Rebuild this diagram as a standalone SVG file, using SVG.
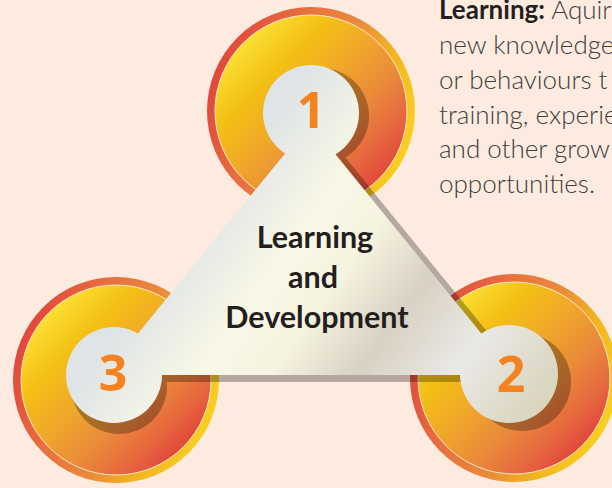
<svg xmlns="http://www.w3.org/2000/svg" width="612" height="488" viewBox="0 0 612 488">
  <defs>
    <linearGradient id="band" x1="0" y1="0.3" x2="1" y2="0.7">
      <stop offset="0" stop-color="#e0423b"/>
      <stop offset="0.3" stop-color="#e86e3f"/>
      <stop offset="0.55" stop-color="#ea8a3a"/>
      <stop offset="0.75" stop-color="#f2b520"/>
      <stop offset="1" stop-color="#f9d421"/>
    </linearGradient>
    <linearGradient id="inner" x1="0.1" y1="0.1" x2="0.9" y2="0.9">
      <stop offset="0" stop-color="#fde93c"/>
      <stop offset="0.25" stop-color="#f4c014"/>
      <stop offset="0.45" stop-color="#f0a82a"/>
      <stop offset="0.65" stop-color="#ea8a3a"/>
      <stop offset="0.82" stop-color="#e6683e"/>
      <stop offset="1" stop-color="#de3a3a"/>
    </linearGradient>
    <linearGradient id="metal" gradientUnits="userSpaceOnUse" x1="60" y1="60" x2="580" y2="440">
      <stop offset="0" stop-color="#dfe4e7"/>
      <stop offset="0.32" stop-color="#dfe4e6"/>
      <stop offset="0.46" stop-color="#f9f8e6"/>
      <stop offset="0.55" stop-color="#f6f3e0"/>
      <stop offset="0.66" stop-color="#d9d1c2"/>
      <stop offset="0.78" stop-color="#eae9e7"/>
      <stop offset="0.9" stop-color="#dcd7c2"/>
      <stop offset="1" stop-color="#d6d0b4"/>
    </linearGradient>
    <style>
      .band { fill: url(#band); }
      .inner { fill: url(#inner); stroke: #fbe6cc; stroke-width: 1; }
      .metal { fill: url(#metal); }
      .num { font-family: "Open Sans", "Liberation Sans", sans-serif; font-weight: 700; font-size: 50px; fill: #f58220; text-anchor: middle; }
      .title { font-family: Lato, "Liberation Sans", sans-serif; font-weight: 700; font-size: 30.5px; fill: #231f20; text-anchor: middle; }
      .body { font-family: Lato, "Liberation Sans", sans-serif; font-weight: 300; font-size: 26px; fill: #403e3e; }
      .bold { font-weight: 700; fill: #231f20; }
    </style>
  </defs>
  <rect width="612" height="488" fill="#fdebdf"/>

  <g id="ring1">
    <circle class="band" cx="311" cy="111" r="104"/>
    <circle class="inner" cx="311" cy="111" r="96"/>
  </g>
  <g id="ring2">
    <circle class="band" cx="514" cy="378" r="104"/>
    <circle class="inner" cx="514" cy="378" r="96"/>
  </g>
  <g id="ring3">
    <circle class="band" cx="116" cy="380" r="103"/>
    <circle class="inner" cx="116" cy="380" r="95"/>
  </g>

  <g id="shadows" opacity="0.28" fill="#000">
    <polygon points="323,130 117,382 528,382"/>
    <circle cx="321" cy="116" r="48"/>
    <circle cx="522" cy="382" r="49"/>
    <circle cx="119" cy="386" r="48"/>
  </g>

  <g id="connectors">
    <polygon id="triangle" class="metal" points="310,123 104,375 515,375"/>
  </g>

  <g id="node1">
    <circle class="metal" cx="311" cy="113" r="48"/>
    <text class="num" x="311" y="128">1</text>
  </g>
  <g id="node2">
    <circle class="metal" cx="509" cy="374" r="49"/>
    <text class="num" x="511" y="392">2</text>
  </g>
  <g id="node3">
    <circle class="metal" cx="114" cy="375" r="48"/>
    <text class="num" x="113" y="391">3</text>
  </g>

  <g id="center-label">
    <text class="title" x="315" y="248">Learning</text>
    <text class="title" x="313" y="288">and</text>
    <text class="title" x="317" y="328">Development</text>
  </g>

  <g id="description">
    <text class="body" x="439" y="19"><tspan class="bold">Learning:</tspan> Aquir</text>
    <text class="body" x="439" y="54">new knowledge</text>
    <text class="body" x="439" y="89">or behaviours t</text>
    <text class="body" x="439" y="124">training, experie</text>
    <text class="body" x="439" y="158">and other grow</text>
    <text class="body" x="439" y="193">opportunities.</text>
  </g>
</svg>
